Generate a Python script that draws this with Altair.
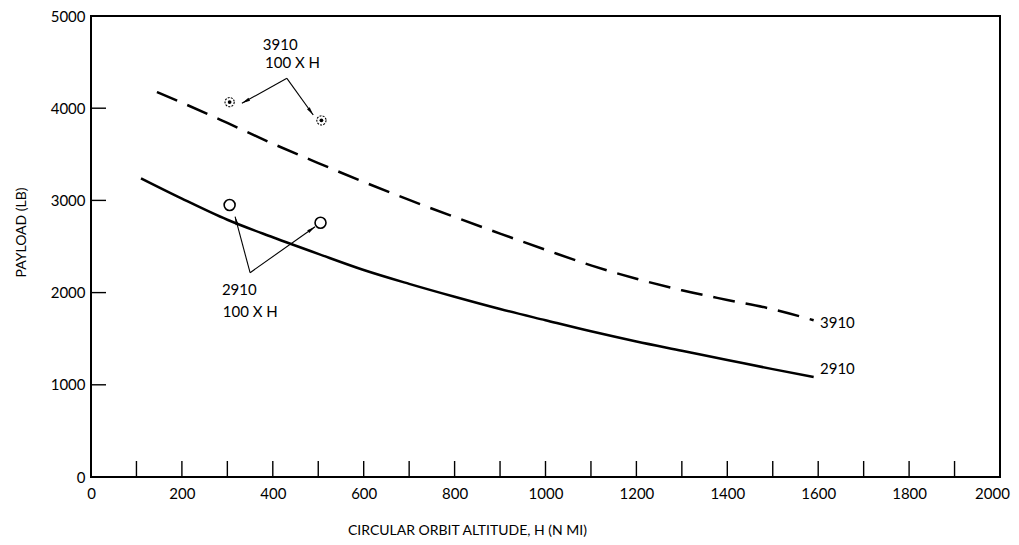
import math
import altair as alt
import pandas as pd

# ---- data ----
alt_3910 = [145, 200, 300, 400, 500, 600, 700, 800, 900, 1000, 1100, 1200, 1300, 1400, 1500, 1590]
pay_3910 = [4175, 4060, 3840, 3615, 3405, 3200, 3005, 2820, 2640, 2465, 2295, 2150, 2025, 1920, 1820, 1700]
alt_2910 = [110, 200, 300, 400, 500, 600, 700, 800, 900, 1000, 1100, 1200, 1300, 1400, 1500, 1590]
pay_2910 = [3240, 3020, 2790, 2600, 2420, 2245, 2095, 1955, 1822, 1700, 1580, 1470, 1370, 1270, 1170, 1085]

pts_3910_x = [305, 507]
pts_3910_y = [4066, 3868]
pts_2910_x = [305, 505]
pts_2910_y = [2950, 2758]

x_tick_values = [0, 200, 400, 600, 800, 1000, 1200, 1400, 1600, 1800, 2000]
y_tick_values = [0, 1000, 2000, 3000, 4000, 5000]
x_minor = list(range(100, 2000, 100))
y_minor = [1000, 2000, 3000, 4000]

# annotation arrows: apex -> tip
arrow_apex_x = [431, 431, 350, 350]
arrow_apex_y = [4324, 4324, 2216, 2216]
arrow_tip_x = [332, 489, 317, 493]
arrow_tip_y = [4053, 3926, 2823, 2715]

ann_text = ["3910", "100 X H", "2910", "100 X H", "3910", "2910"]
ann_x = [378, 383, 288, 290, 1604, 1604]
ann_y = [4685, 4490, 2028, 1790, 1670, 1171]

W, H = 909, 461
FONT = "Lato"

xs = alt.Scale(domain=[0, 2000], nice=False)
ys = alt.Scale(domain=[0, 5000], nice=False)

curves = pd.DataFrame(
    {"alt": alt_3910 + alt_2910,
     "pay": pay_3910 + pay_2910,
     "series": ["3910"] * len(alt_3910) + ["2910"] * len(alt_2910)}
)

base_x = alt.X("alt:Q", scale=xs,
               axis=alt.Axis(values=x_tick_values, format="d", ticks=False, domain=False, grid=False,
                             labelFontSize=15, labelPadding=9, labelFlush=False,
                             labelOverlap=False, labelFont=FONT, labelColor="black",
                             labelOffset={"condition": {"test": "datum.value == 2000", "value": -8},
                                          "value": 0},
                             title="CIRCULAR ORBIT ALTITUDE, H (N MI)",
                             titleFont=FONT, titleFontSize=14, titleFontWeight="normal",
                             titleColor="black", titleX=376, titleY=53,
                             titleAlign="center", titleBaseline="middle"))
base_y = alt.Y("pay:Q", scale=ys,
               axis=alt.Axis(values=y_tick_values, format="d", ticks=False, domain=False, grid=False,
                             labelFontSize=15, labelPadding=6, labelFlush=False,
                             labelOverlap=False, labelFont=FONT, labelColor="black",
                             title="PAYLOAD (LB)",
                             titleFont=FONT, titleFontSize=14, titleFontWeight="normal",
                             titleColor="black", titleX=-70, titleY=216, titleAngle=270,
                             titleAlign="center", titleBaseline="middle"))

line_3910 = alt.Chart(curves[curves.series == "3910"]).mark_line(
    color="black", strokeWidth=2.5, strokeDash=[22, 11], interpolate="monotone"
).encode(x=base_x, y=base_y)

line_2910 = alt.Chart(curves[curves.series == "2910"]).mark_line(
    color="black", strokeWidth=2.5, interpolate="monotone"
).encode(x=alt.X("alt:Q", scale=xs), y=alt.Y("pay:Q", scale=ys))

p2910 = pd.DataFrame({"alt": pts_2910_x, "pay": pts_2910_y})
p3910 = pd.DataFrame({"alt": pts_3910_x, "pay": pts_3910_y})

open_circles = alt.Chart(p2910).mark_point(
    shape="circle", filled=False, color="black", size=120, strokeWidth=1.6, opacity=1
).encode(x=alt.X("alt:Q", scale=xs), y=alt.Y("pay:Q", scale=ys))

dot_outer = alt.Chart(p3910).mark_point(
    shape="circle", filled=False, color="black", size=85, strokeWidth=1.1,
    strokeDash=[2, 1.2], opacity=1
).encode(x=alt.X("alt:Q", scale=xs), y=alt.Y("pay:Q", scale=ys))

dot_inner = alt.Chart(p3910).mark_point(
    shape="circle", filled=True, color="black", size=14, opacity=1
).encode(x=alt.X("alt:Q", scale=xs), y=alt.Y("pay:Q", scale=ys))

# arrows
px_x = W / 2000.0
px_y = H / 5000.0
angles = []
for ax, ay, tx, ty in zip(arrow_apex_x, arrow_apex_y, arrow_tip_x, arrow_tip_y):
    dx = (tx - ax) * px_x
    dy = -(ty - ay) * px_y
    angles.append(math.degrees(math.atan2(dx, -dy)) % 360)

arrows = pd.DataFrame({"x": arrow_apex_x, "y": arrow_apex_y,
                       "x2": arrow_tip_x, "y2": arrow_tip_y, "angle": angles})

arrow_lines = alt.Chart(arrows).mark_rule(color="black", strokeWidth=1.1).encode(
    x=alt.X("x:Q", scale=xs), y=alt.Y("y:Q", scale=ys), x2="x2:Q", y2="y2:Q")

arrow_heads = alt.Chart(arrows).mark_point(
    shape="M0,0L0.32,1.6L-0.32,1.6Z", filled=True, color="black", size=110, opacity=1
).encode(x=alt.X("x2:Q", scale=xs), y=alt.Y("y2:Q", scale=ys),
         angle=alt.Angle("angle:Q", scale=None))

ann = pd.DataFrame({"t": ann_text, "x": ann_x, "y": ann_y})
ann_marks = alt.Chart(ann).mark_text(
    align="left", baseline="middle", font=FONT, fontSize=15, color="black"
).encode(x=alt.X("x:Q", scale=xs), y=alt.Y("y:Q", scale=ys), text="t:N")

# inward ticks
xt = pd.DataFrame({"x": x_minor})
x_ticks = alt.Chart(xt).mark_rule(color="black", strokeWidth=1.4).encode(
    x=alt.X("x:Q", scale=xs), y=alt.value(H), y2=alt.value(H - 16))
yt = pd.DataFrame({"y": y_minor})
y_ticks = alt.Chart(yt).mark_rule(color="black", strokeWidth=1.4).encode(
    y=alt.Y("y:Q", scale=ys), x=alt.value(0), x2=alt.value(15))

chart = alt.layer(
    line_3910, line_2910, open_circles, dot_outer, dot_inner,
    arrow_lines, arrow_heads, ann_marks, x_ticks, y_ticks
).properties(
    width=W, height=H,
    autosize=alt.AutoSizeParams(type="none"),
    padding={"left": 83, "top": 8, "right": 11, "bottom": 60},
).configure(background="white").configure_view(stroke="black", strokeWidth=2)

chart.save("out.html", embed_options={"renderer": "svg", "actions": False})
